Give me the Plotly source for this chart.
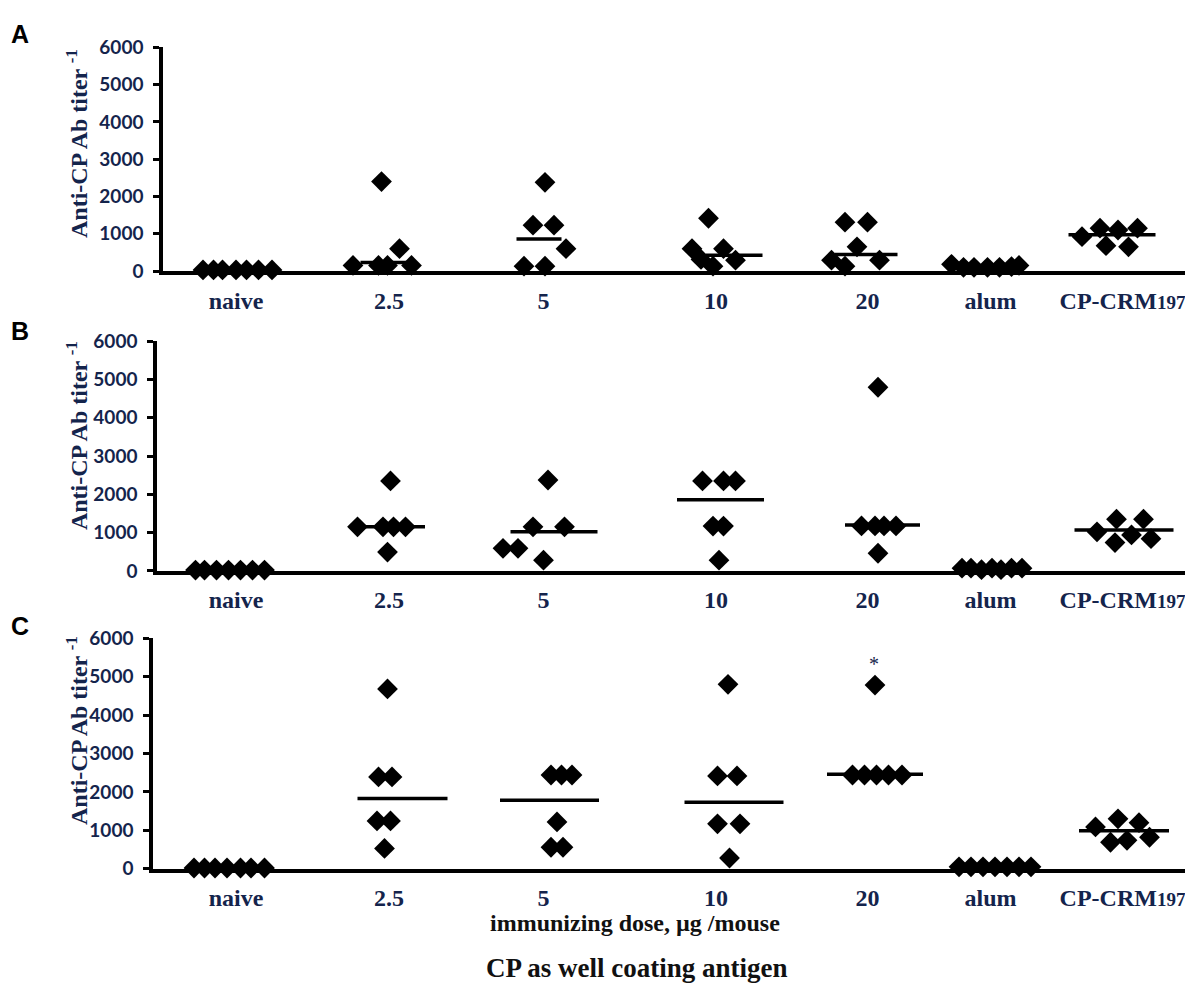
import plotly.graph_objects as go

# groups on the x axis (same for the three panels)
groups = ["naive", "2.5", "5", "10", "20", "alum", "CP-CRM197"]
group_pos = [0.52, 1.54, 2.57, 3.72, 4.73, 5.55, 6.43]
y_ticks = [0, 1000, 2000, 3000, 4000, 5000, 6000]

# --- panel A: titer per mouse, per group ---
a_titers = [
    [30, 30, 30, 30, 30, 30, 30],
    [150, 2400, 150, 150, 600, 150],
    [130, 2380, 1230, 1230, 130, 600],
    [1415, 600, 600, 310, 130, 290],
    [1310, 1310, 650, 290, 130, 290],
    [180, 100, 100, 100, 100, 120, 150],
    [920, 1150, 1100, 1150, 680, 650],
]
a_jitter = [
    [-0.22, -0.15, -0.09, 0.0, 0.07, 0.15, 0.24],
    [-0.24, -0.05, -0.07, -0.01, 0.07, 0.15],
    [-0.13, 0.01, -0.07, 0.07, 0.01, 0.15],
    [-0.05, -0.16, 0.05, -0.10, -0.02, 0.13],
    [-0.15, 0.0, -0.07, -0.24, -0.15, 0.08],
    [-0.26, -0.18, -0.11, -0.02, 0.06, 0.14, 0.19],
    [-0.27, -0.15, -0.03, 0.10, -0.11, 0.04],
]
a_mean = [None, 230, 860, 420, 445, None, 970]
a_mean_shift = [0, -0.03, -0.03, 0.12, -0.01, 0, -0.07]
a_mean_half = [0, 0.16, 0.15, 0.19, 0.21, 0, 0.29]

# --- panel B ---
b_titers = [
    [20, 20, 20, 20, 20, 20, 20],
    [1150, 2350, 1150, 1150, 1150, 490],
    [590, 590, 2375, 1150, 1150, 280],
    [2350, 2350, 2350, 1170, 1170, 280],
    [4800, 1175, 1175, 1175, 1175, 460],
    [70, 70, 30, 70, 30, 70, 70],
    [1020, 1350, 1350, 740, 940, 840],
]
b_jitter = [
    [-0.27, -0.21, -0.13, -0.05, 0.03, 0.11, 0.19],
    [-0.21, 0.01, -0.04, 0.03, 0.11, -0.01],
    [-0.27, -0.17, 0.03, -0.07, 0.14, 0.0],
    [-0.09, 0.05, 0.13, -0.02, 0.05, 0.02],
    [0.07, -0.04, 0.05, 0.11, 0.19, 0.07],
    [-0.19, -0.13, -0.06, 0.01, 0.07, 0.14, 0.21],
    [-0.17, -0.04, 0.14, -0.05, 0.06, 0.19],
]
b_mean = [None, 1150, 1020, 1860, 1200, None, 1070]
b_mean_shift = [0, 0.01, 0.07, 0.03, 0.10, 0, 0.01]
b_mean_half = [0, 0.23, 0.29, 0.29, 0.25, 0, 0.33]

# --- panel C ---
c_titers = [
    [20, 20, 20, 20, 20, 20, 20],
    [4680, 2390, 2390, 1245, 1245, 530],
    [2440, 2440, 2440, 1220, 560, 560],
    [4800, 2415, 2415, 1170, 1170, 280],
    [4780, 2440, 2440, 2440, 2440, 2440],
    [50, 50, 50, 50, 50, 50, 50],
    [1090, 1300, 1200, 690, 740, 820],
]
c_jitter = [
    [-0.28, -0.21, -0.14, -0.06, 0.03, 0.10, 0.19],
    [-0.01, -0.07, 0.02, -0.08, 0.01, -0.03],
    [0.05, 0.12, 0.19, 0.09, 0.05, 0.13],
    [0.08, 0.01, 0.14, 0.01, 0.16, 0.09],
    [0.05, -0.10, -0.02, 0.06, 0.14, 0.23],
    [-0.21, -0.13, -0.05, 0.03, 0.11, 0.19, 0.27],
    [-0.18, -0.03, 0.11, -0.08, 0.03, 0.18],
]
c_mean = [None, 1830, 1780, 1730, 2460, None, 990]
c_mean_shift = [0, 0.09, 0.04, 0.12, 0.05, 0, 0.01]
c_mean_half = [0, 0.30, 0.33, 0.33, 0.32, 0, 0.30]

panels = [
    ("A", a_titers, a_jitter, a_mean, a_mean_shift, a_mean_half),
    ("B", b_titers, b_jitter, b_mean, b_mean_shift, b_mean_half),
    ("C", c_titers, c_jitter, c_mean, c_mean_shift, c_mean_half),
]

W, H = 1193, 987
# plot areas in pixels: (left, right, top (6000), bottom (0))
boxes = [(155, 1178, 28, 257), (149, 1188, 329, 564), (145, 1178, 633, 869)]
title_y = [127, 426, 728]
letter_y = [14, 318, 620]


def px(x):
    return x / W


def py(y):
    return 1 - y / H


NAVY = "#14244c"
serif = "Liberation Serif"

tick_text = groups[:-1] + ['CP-CRM<span style="font-size:19px">197</span>']

fig = go.Figure()

for k, (letter, titers, jitter, mean, mshift, mhalf) in enumerate(panels, start=1):
    xa = "x" if k == 1 else f"x{k}"
    ya = "y" if k == 1 else f"y{k}"

    # mouse titers
    xs, ys = [], []
    for g, (vals, offs) in enumerate(zip(titers, jitter)):
        xs += [group_pos[g] + o for o in offs]
        ys += vals
    fig.add_trace(go.Scatter(
        x=xs, y=ys, mode="markers", xaxis=xa, yaxis=ya,
        marker=dict(symbol="diamond", size=16, color="black"),
        cliponaxis=False, showlegend=False, hoverinfo="y"
    ))

    # group mean bars
    lx, ly = [], []
    for g, m in enumerate(mean):
        if m is None:
            continue
        c = group_pos[g] + mshift[g]
        lx += [c - mhalf[g], c + mhalf[g], None]
        ly += [m, m, None]
    fig.add_trace(go.Scatter(
        x=lx, y=ly, mode="lines", xaxis=xa, yaxis=ya,
        line=dict(color="black", width=3.5),
        cliponaxis=False, showlegend=False, hoverinfo="skip"
    ))

    left, right, top, bottom = boxes[k - 1]
    xname = "xaxis" if k == 1 else f"xaxis{k}"
    yname = "yaxis" if k == 1 else f"yaxis{k}"
    fig.layout[xname] = dict(
        domain=[px(left), px(right)],
        range=[(left - 150) / 150, (right - 150) / 150],
        anchor=ya, showline=True, linecolor="black", linewidth=3.5,
        showgrid=False, zeroline=False,
        tickvals=group_pos, ticktext=tick_text,
        ticks="outside", ticklen=5, tickcolor="rgba(0,0,0,0)",
        tickfont=dict(family=serif, size=24, color=NAVY, weight="bold"),
    )
    fig.layout[yname] = dict(
        domain=[py(bottom), py(top)],
        range=[0, 6000], anchor=xa,
        showline=True, linecolor="black", linewidth=3.5,
        showgrid=False, zeroline=False,
        tickvals=y_ticks, ticks="outside", ticklen=6, tickwidth=3,
        tickcolor="black", ticklabelstandoff=6,
        tickfont=dict(family="Lato", size=19, color=NAVY, weight="bold"),
    )

    # y axis title and panel letter
    fig.add_annotation(
        x=px(69), y=py(title_y[k - 1]), xref="paper", yref="paper",
        xanchor="center", yanchor="middle",
        text="Anti-CP Ab titer <sup>-1</sup>", textangle=-90, showarrow=False,
        font=dict(family=serif, size=24, color=NAVY, weight="bold"),
    )
    fig.add_annotation(
        x=px(1), y=py(letter_y[k - 1]), xref="paper", yref="paper",
        xanchor="left", yanchor="middle", text=letter, showarrow=False,
        font=dict(family="Liberation Sans", size=25, color="black", weight="bold"),
    )

# significance mark above the 20 µg group in panel C
fig.add_annotation(
    x=group_pos[4] + 0.04, y=5330, xref="x3", yref="y3", text="*",
    xanchor="center", yanchor="middle",
    showarrow=False, font=dict(family=serif, size=20, color=NAVY),
)

fig.add_annotation(
    x=px(627), y=py(925), xref="paper", yref="paper",
    xanchor="center", yanchor="middle",
    text="immunizing dose, µg /mouse", showarrow=False,
    font=dict(family=serif, size=24, color="#111111", weight="bold"),
)
fig.add_annotation(
    x=px(629), y=py(971), xref="paper", yref="paper",
    xanchor="center", yanchor="middle",
    text="CP as well coating antigen", showarrow=False,
    font=dict(family=serif, size=27, color="#111111", weight="bold"),
)

fig.update_layout(
    width=W, height=H,
    margin=dict(l=0, r=0, t=0, b=0),
    paper_bgcolor="white", plot_bgcolor="white",
    showlegend=False,
)

fig.write_html("out.html")
